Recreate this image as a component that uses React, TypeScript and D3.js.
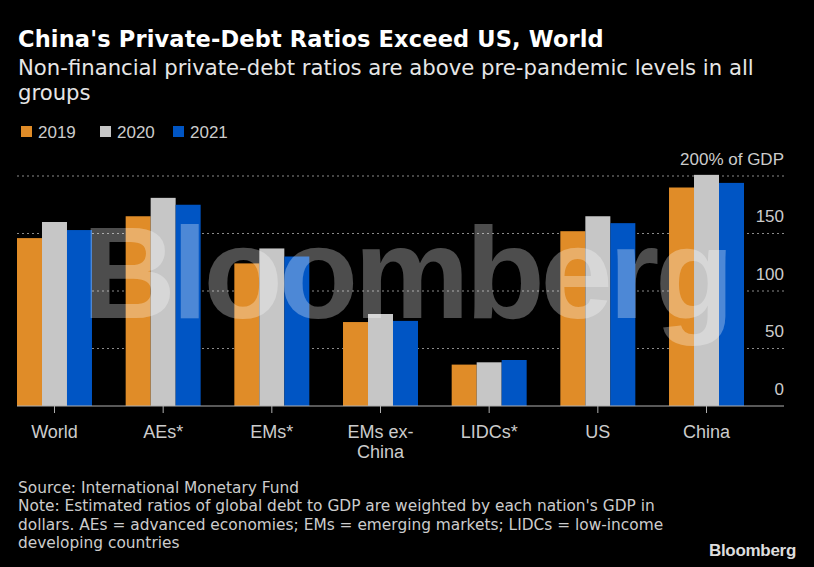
import * as d3 from "d3";

const categories = ["World", "AEs*", "EMs*", "EMs ex-China", "LIDCs*", "US", "China"];
const categoryLines = [["World"], ["AEs*"], ["EMs*"], ["EMs ex-", "China"], ["LIDCs*"], ["US"], ["China"]];
const years = ["2019", "2020", "2021"];
const values2019 = [146, 165, 124, 73, 36, 152, 190];
const values2020 = [160, 181, 137, 80, 38, 165, 201];
const values2021 = [153, 175, 130, 74, 40, 159, 194];
const yTicks = [0, 50, 100, 150, 200];
const colors = ["#e08c28", "#c6c6c6", "#0055c4"];

const W = 814;
const H = 567;
const FONT = "'Liberation Sans', Arial, sans-serif";
const TEXT_FONT = "'DejaVu Sans', sans-serif";

export default function App() {
  const series = [values2019, values2020, values2021];

  const x = d3.scaleBand<string>().domain(categories).range([17, 744]).paddingInner(0.31).paddingOuter(0);
  const xs = d3.scaleBand<string>().domain(years).range([0, x.bandwidth()]);
  const y = d3.scaleLinear().domain([0, 200]).range([406, 176]);
  const gridRight = 784;

  return (
    <svg
      width={W}
      height={H}
      style={{ position: "fixed", left: 0, top: 0, background: "#000" }}
      fontFamily={FONT}
    >
      <rect width={W} height={H} fill="#000" />

      {/* header */}
      <g fontFamily={TEXT_FONT}>
        <text x={18} y={47} fill="#fff" fontSize={22.5} fontWeight="bold" letterSpacing={0.15}>
          China's Private-Debt Ratios Exceed US, World
        </text>
        <text x={18} y={75} fill="#e6e6e6" fontSize={21.2}>
          Non-financial private-debt ratios are above pre-pandemic levels in all
        </text>
        <text x={18} y={100} fill="#e6e6e6" fontSize={21.2}>
          groups
        </text>
      </g>

      {/* legend */}
      {years.map((yr, i) => {
        const lx = [21, 100, 173][i];
        return (
          <g key={yr}>
            <rect x={lx} y={126} width={11} height={11} fill={colors[i]} />
            <text x={lx + 17} y={138} fill="#cccccc" fontSize={17}>
              {yr}
            </text>
          </g>
        );
      })}

      {/* gridlines */}
      {yTicks.slice(1).map((t) => (
        <line
          key={t}
          x1={17}
          x2={gridRight}
          y1={y(t)}
          y2={y(t)}
          stroke="#8a8a8a"
          strokeWidth={1}
          strokeDasharray="2,3"
        />
      ))}

      {/* bars */}
      {categories.map((c, ci) => (
        <g key={c} transform={`translate(${x(c)},0)`}>
          {series.map((s, si) => (
            <rect
              key={si}
              x={xs(years[si])}
              y={y(s[ci])}
              width={xs.bandwidth()}
              height={y(0) - y(s[ci])}
              fill={colors[si]}
            />
          ))}
        </g>
      ))}

      {/* baseline and ticks */}
      <line x1={17} x2={gridRight} y1={y(0)} y2={y(0)} stroke="#b0b0b0" strokeWidth={1.2} />
      {categories.map((c) => {
        const cx = x(c)! + x.bandwidth() / 2;
        return <line key={c} x1={cx} x2={cx} y1={y(0)} y2={y(0) + 7} stroke="#b0b0b0" />;
      })}

      {/* y labels */}
      {yTicks.map((t) => (
        <text key={t} x={gridRight} y={y(t) - 11.4} textAnchor="end" fill="#cccccc" fontSize={17}>
          {t === 200 ? "200% of GDP" : t}
        </text>
      ))}

      {/* x labels */}
      {categories.map((c, ci) => {
        const cx = x(c)! + x.bandwidth() / 2;
        return (
          <text key={c} x={cx} y={437.7} textAnchor="middle" fill="#cccccc" fontSize={18}>
            {categoryLines[ci].map((ln, li) => (
              <tspan key={li} x={cx} dy={li === 0 ? 0 : 20}>
                {ln}
              </tspan>
            ))}
          </text>
        );
      })}

      {/* watermark */}
      <text
        x={82}
        y={318}
        fill="#fff"
        fillOpacity={0.3}
        fontSize={130}
        fontWeight="bold"
        letterSpacing={-4.2}
      >
        Bloomberg
      </text>

      {/* footer */}
      <g fontFamily={TEXT_FONT} fill="#cccccc" fontSize={15.4}>
        <text x={18} y={492.7}>
          Source: International Monetary Fund
        </text>
        <text x={18} y={511.3}>
          Note: Estimated ratios of global debt to GDP are weighted by each nation's GDP in
        </text>
        <text x={18} y={529.7}>
          dollars. AEs = advanced economies; EMs = emerging markets; LIDCs = low-income
        </text>
        <text x={18} y={548.3}>
          developing countries
        </text>
      </g>
      <text x={796} y={555.5} textAnchor="end" fill="#dddddd" fontSize={17} fontWeight="bold" letterSpacing={-0.3}>
        Bloomberg
      </text>
    </svg>
  );
}
